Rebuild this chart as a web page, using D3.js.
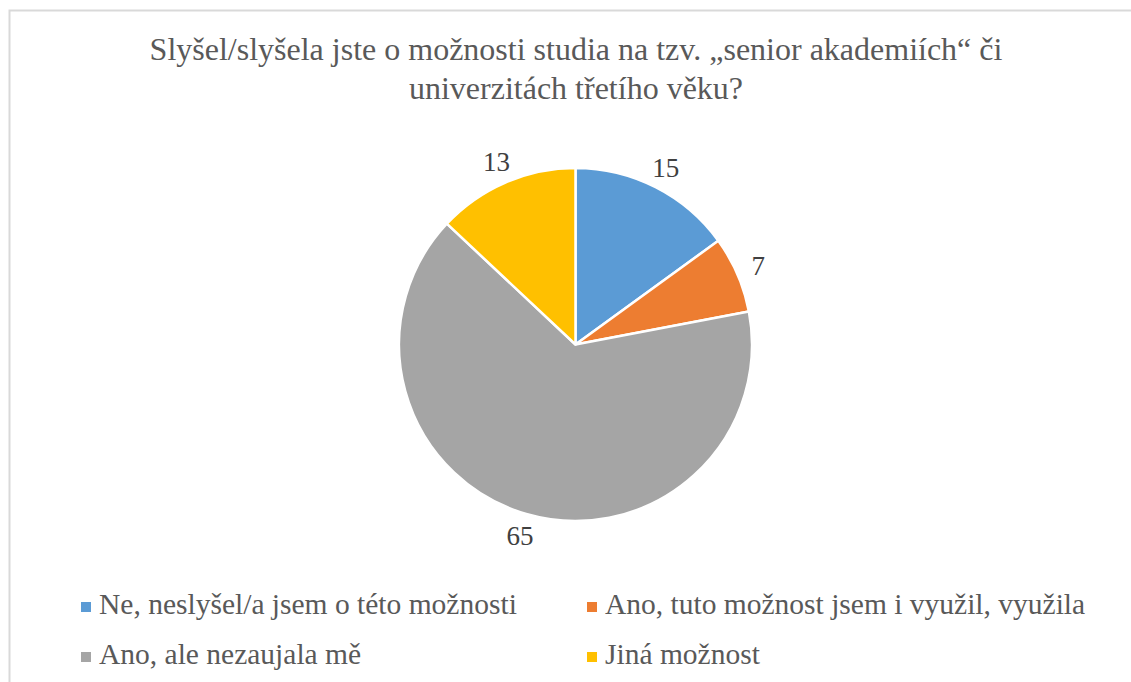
<!DOCTYPE html>
<html><head><meta charset="utf-8">
<script src="https://cdn.jsdelivr.net/npm/d3@7"></script>
<style>
svg text { font-family: "Times New Roman", "Liberation Serif", Tinos, serif; }
</style>
</head><body style="margin:0;background:#fff">
<script>
const categories = ["Ne, neslyšel/a jsem o této možnosti", "Ano, tuto možnost jsem i využil, využila", "Ano, ale nezaujala mě", "Jiná možnost"];
const values = [15, 7, 65, 13];
const colors = ["#5B9BD5", "#ED7D31", "#A5A5A5", "#FFC000"];
const titleLines = ["Slyšel/slyšela jste o možnosti studia na tzv. „senior akademiích“ či", "univerzitách třetího věku?"];

const W = 1131, H = 682;
const svg = d3.select("body").append("svg").attr("width", W).attr("height", H)
  .style("display", "block");

svg.append("rect").attr("x", 9.5).attr("y", 10.5).attr("width", 1140).attr("height", 700)
  .attr("fill", "#fff").attr("stroke", "#d9d9d9").attr("stroke-width", 2);

svg.append("g").selectAll("text").data(titleLines).join("text")
  .attr("x", 576).attr("y", (d, i) => 60 + i * 38.5)
  .attr("text-anchor", "middle").attr("fill", "#595959")
  .style("font-size", "32px").text(d => d);

const cx = 575.5, cy = 344.5, r = 176.5;
const pie = d3.pie().sort(null).value(d => d);
const arcs = pie(values);
const arc = d3.arc().innerRadius(0).outerRadius(r);
const g = svg.append("g").attr("transform", `translate(${cx},${cy})`);
g.selectAll("path").data(arcs).join("path")
  .attr("d", arc).attr("fill", (d, i) => colors[i])
  .attr("stroke", "#fff").attr("stroke-width", 2.5).attr("stroke-linejoin", "round");

const labelArc = d3.arc().innerRadius(199).outerRadius(199);
g.selectAll("text").data(arcs).join("text")
  .attr("transform", d => { const c = labelArc.centroid(d); return `translate(${c[0]},${c[1]})`; })
  .attr("text-anchor", "middle").attr("dy", "0.35em").attr("fill", "#404040")
  .style("font-size", "27px").text(d => d.data);

const legX = [81, 587], legY = [602, 652];
const lg = svg.append("g");
const items = lg.selectAll("g").data(categories).join("g")
  .attr("transform", (d, i) => `translate(${legX[i % 2]},${legY[Math.floor(i / 2)]})`);
items.append("rect").attr("width", 10).attr("height", 10).attr("fill", (d, i) => colors[i]);
items.append("text").attr("x", 18).attr("y", 12).attr("fill", "#595959")
  .style("font-size", "29.5px").text(d => d);
</script>
</body></html>
